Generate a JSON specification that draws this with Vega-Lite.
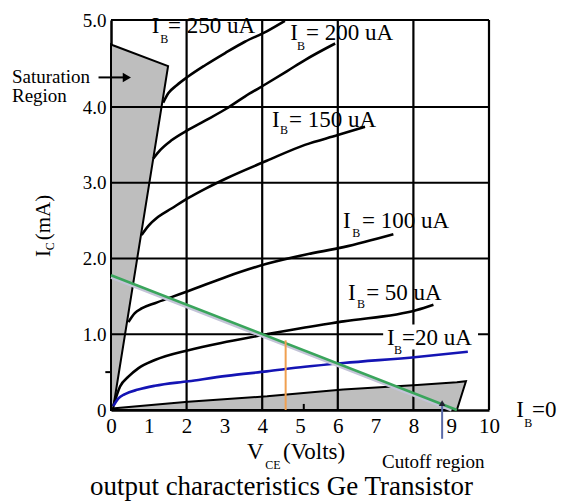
{
  "$schema": "https://vega.github.io/schema/vega-lite/v6.json",
  "width": 378,
  "height": 390,
  "autosize": {"type": "none"},
  "padding": {"left": 111, "top": 20, "right": 72, "bottom": 92},
  "background": "white",
  "config": {
    "view": {"stroke": null},
    "font": "Liberation Serif",
    "axis": {"labelFont": "Liberation Serif", "titleFont": "Liberation Serif"},
    "style": {"guide-label": {"font": "Liberation Serif"}, "guide-title": {"font": "Liberation Serif"}},
    "text": {"font": "Liberation Serif"}
  },
  "datasets": {
    "sat": [
      {"x": 0, "y": 4.72, "y2": 0},
      {"x": 0.05, "y": 4.71, "y2": 0},
      {"x": 1.51, "y": 4.47, "y2": 4.47}
    ],
    "cut": [
      {"x": 0.02, "y": 0.02, "y2": 0},
      {"x": 2.04, "y": 0.11, "y2": 0},
      {"x": 4.13, "y": 0.18, "y2": 0},
      {"x": 6.14, "y": 0.27, "y2": 0},
      {"x": 8.1, "y": 0.33, "y2": 0},
      {"x": 9.15, "y": 0.365, "y2": 0},
      {"x": 9.39, "y": 0.38, "y2": 0.38}
    ],
    "gridV": [
      {"x": 2, "y": 0, "y2": 5}, {"x": 4, "y": 0, "y2": 5}, {"x": 6, "y": 0, "y2": 5},
      {"x": 8, "y": 0, "y2": 5}, {"x": 10, "y": 0, "y2": 5}
    ],
    "gridH": [
      {"y": 1, "x": 0, "x2": 10}, {"y": 2, "x": 0, "x2": 10}, {"y": 3, "x": 0, "x2": 10},
      {"y": 4, "x": 0, "x2": 10}, {"y": 5, "x": 0, "x2": 10}
    ],
    "minorV": [{"x": 5.1, "y": 0, "y2": 0.08}],
    "minorH": [{"y": 0.5, "x": -0.15, "x2": 0}],
    "curves": [
      {"s": "250", "x": 1.38, "y": 4.05}, {"s": "250", "x": 1.52, "y": 4.16}, {"s": "250", "x": 1.74, "y": 4.25},
      {"s": "250", "x": 2.04, "y": 4.35}, {"s": "250", "x": 2.49, "y": 4.48}, {"s": "250", "x": 3.02, "y": 4.62},
      {"s": "250", "x": 3.54, "y": 4.75}, {"s": "250", "x": 4.12, "y": 4.87}, {"s": "250", "x": 4.6, "y": 4.99},
      {"s": "200", "x": 1.12, "y": 3.32}, {"s": "200", "x": 1.3, "y": 3.43}, {"s": "200", "x": 1.6, "y": 3.56},
      {"s": "200", "x": 2.05, "y": 3.7}, {"s": "200", "x": 2.49, "y": 3.82}, {"s": "200", "x": 3.06, "y": 3.98},
      {"s": "200", "x": 3.54, "y": 4.12}, {"s": "200", "x": 4.12, "y": 4.27}, {"s": "200", "x": 4.65, "y": 4.41},
      {"s": "200", "x": 5.13, "y": 4.54}, {"s": "200", "x": 5.93, "y": 4.73},
      {"s": "150", "x": 0.81, "y": 2.31}, {"s": "150", "x": 0.99, "y": 2.43}, {"s": "150", "x": 1.25, "y": 2.55},
      {"s": "150", "x": 1.6, "y": 2.66}, {"s": "150", "x": 2.05, "y": 2.8}, {"s": "150", "x": 2.49, "y": 2.92},
      {"s": "150", "x": 3.06, "y": 3.06}, {"s": "150", "x": 4.12, "y": 3.29}, {"s": "150", "x": 5.13, "y": 3.5},
      {"s": "150", "x": 6.0, "y": 3.63}, {"s": "150", "x": 6.72, "y": 3.74},
      {"s": "100", "x": 0.46, "y": 1.16}, {"s": "100", "x": 0.63, "y": 1.28}, {"s": "100", "x": 0.81, "y": 1.34},
      {"s": "100", "x": 1.16, "y": 1.41}, {"s": "100", "x": 1.6, "y": 1.49}, {"s": "100", "x": 2.05, "y": 1.57},
      {"s": "100", "x": 3.06, "y": 1.76}, {"s": "100", "x": 4.12, "y": 1.93}, {"s": "100", "x": 5.13, "y": 2.05},
      {"s": "100", "x": 6.15, "y": 2.15}, {"s": "100", "x": 7.47, "y": 2.32},
      {"s": "50", "x": 0.06, "y": 0.05}, {"s": "50", "x": 0.24, "y": 0.31}, {"s": "50", "x": 0.46, "y": 0.44},
      {"s": "50", "x": 0.72, "y": 0.55}, {"s": "50", "x": 1.16, "y": 0.66}, {"s": "50", "x": 2.05, "y": 0.79},
      {"s": "50", "x": 3.06, "y": 0.9}, {"s": "50", "x": 4.12, "y": 1.0}, {"s": "50", "x": 5.13, "y": 1.09},
      {"s": "50", "x": 6.15, "y": 1.17}, {"s": "50", "x": 8.09, "y": 1.32}, {"s": "50", "x": 8.53, "y": 1.39},
      {"s": "20", "x": 0.06, "y": 0.05}, {"s": "20", "x": 0.19, "y": 0.15}, {"s": "20", "x": 0.37, "y": 0.21},
      {"s": "20", "x": 0.72, "y": 0.27}, {"s": "20", "x": 1.16, "y": 0.32}, {"s": "20", "x": 2.05, "y": 0.38},
      {"s": "20", "x": 3.06, "y": 0.45}, {"s": "20", "x": 4.12, "y": 0.51}, {"s": "20", "x": 5.13, "y": 0.57},
      {"s": "20", "x": 6.15, "y": 0.62}, {"s": "20", "x": 8.09, "y": 0.7}, {"s": "20", "x": 9.44, "y": 0.77}
    ],
    "loadShadow": [{"x": 0, "y": 1.752}, {"x": 9.01, "y": 0}],
    "load": [{"x": 0, "y": 1.78}, {"x": 9.15, "y": 0}],
    "orange": [{"x": 4.62, "y": 0, "y2": 0.92}],
    "vArrow": [{"x": 8.76, "y": -0.38, "y2": 0.1}],
    "vHead": [{"x": 8.76, "y": 0.09}],
    "hArrow": [{"x": -0.33, "x2": 0.45, "y": 4.34}],
    "hHead": [{"x": 0.42, "y": 4.34}],
    "box": [{"x": 7.2, "x2": 9.71, "y": 0.8, "y2": 1.13}],
    "mainText": [
      {"x": 1.08, "y": 4.85, "t": "I"}, {"x": 1.51, "y": 4.85, "t": "= 250 uA"},
      {"x": 4.74, "y": 4.77, "t": "I"}, {"x": 5.16, "y": 4.77, "t": "= 200 uA"},
      {"x": 4.26, "y": 3.74, "t": "I"}, {"x": 4.71, "y": 3.74, "t": "= 150 uA"},
      {"x": 6.14, "y": 2.4, "t": "I"}, {"x": 6.64, "y": 2.4, "t": "= 100 uA"},
      {"x": 6.27, "y": 1.45, "t": "I"}, {"x": 6.75, "y": 1.45, "t": "= 50 uA"},
      {"x": 7.3, "y": 0.86, "t": "I"}, {"x": 7.7, "y": 0.86, "t": "=20 uA"},
      {"x": 10.72, "y": -0.09, "t": "I"}, {"x": 11.14, "y": -0.09, "t": "=0"},
      {"x": 3.6, "y": -0.65, "t": "V"}, {"x": 4.55, "y": -0.65, "t": "(Volts)"}
    ],
    "satText": [
      {"x": -2.62, "y": 4.28, "t": "Saturation"}, {"x": -2.62, "y": 4.06, "t": "Region"}
    ],
    "subText": [
      {"x": 1.3, "y": 4.74, "t": "B"}, {"x": 4.92, "y": 4.66, "t": "B"}, {"x": 4.47, "y": 3.64, "t": "B"},
      {"x": 6.38, "y": 2.28, "t": "B"}, {"x": 6.51, "y": 1.35, "t": "B"}, {"x": 7.49, "y": 0.74, "t": "B"},
      {"x": 10.93, "y": -0.22, "t": "B"}, {"x": 4.08, "y": -0.78, "t": "CE"}
    ],
    "yTitleMain": [{"x": -1.62, "y": 2.02, "t": "I"}, {"x": -1.62, "y": 2.24, "t": "(mA)"}],
    "yTitleSub": [{"x": -1.5, "y": 2.11, "t": "C"}],
    "cutoffText": [{"x": 7.17, "y": -0.76, "t": "Cutoff region"}],
    "titleText": [{"x": 4.51, "y": -1.12, "t": "output characteristics Ge Transistor"}]
  },
  "encoding": {
    "x": {
      "field": "x", "type": "quantitative",
      "scale": {"domain": [0, 10], "nice": false, "zero": false},
      "axis": {
        "title": null, "values": [0, 1, 2, 3, 4, 5, 6, 7, 8, 9, 10], "grid": false, "ticks": false,
        "domainColor": "black", "domainWidth": 2.5, "labelFont": "Liberation Serif", "labelFontSize": 21,
        "labelColor": "black", "labelPadding": 5, "labelFlush": false
      }
    },
    "y": {
      "field": "y", "type": "quantitative",
      "scale": {"domain": [0, 4, 5], "range": [390, 87, 0], "nice": false, "zero": false},
      "axis": {
        "title": null, "values": [0, 1, 2, 3, 4, 5], "grid": false, "ticks": false,
        "domainColor": "black", "domainWidth": 2.5, "labelFont": "Liberation Serif", "labelFontSize": 19,
        "labelColor": "black", "labelPadding": 5,
        "labelExpr": "datum.value == 0 ? '0' : format(datum.value, '.1f')"
      }
    }
  },
  "layer": [
    {"data": {"name": "sat"}, "mark": {"type": "area", "fill": "#bebebe", "stroke": "black", "strokeWidth": 2}, "encoding": {"y2": {"field": "y2"}}},
    {"data": {"name": "cut"}, "mark": {"type": "area", "fill": "#bebebe", "stroke": "black", "strokeWidth": 2}, "encoding": {"y2": {"field": "y2"}}},
    {"data": {"name": "gridV"}, "mark": {"type": "rule", "color": "black", "strokeWidth": 2.2}, "encoding": {"y2": {"field": "y2"}}},
    {"data": {"name": "gridH"}, "mark": {"type": "rule", "color": "black", "strokeWidth": 2.2}, "encoding": {"x2": {"field": "x2"}}},
    {"data": {"name": "minorV"}, "mark": {"type": "rule", "color": "black", "strokeWidth": 2}, "encoding": {"y2": {"field": "y2"}}},
    {"data": {"name": "minorH"}, "mark": {"type": "rule", "color": "black", "strokeWidth": 2}, "encoding": {"x2": {"field": "x2"}}},
    {
      "data": {"name": "curves"},
      "mark": {"type": "line", "strokeWidth": 2.6, "interpolate": "monotone"},
      "encoding": {
        "color": {"field": "s", "type": "nominal", "legend": null,
          "scale": {"domain": ["250", "200", "150", "100", "50", "20"], "range": ["black", "black", "black", "black", "black", "#1414b4"]}}
      }
    },
    {"data": {"name": "loadShadow"}, "mark": {"type": "line", "color": "#c4c4d8", "strokeWidth": 3}, "encoding": {}},
    {"data": {"name": "load"}, "mark": {"type": "line", "color": "#3aa55c", "strokeWidth": 2.6}, "encoding": {}},
    {"data": {"name": "orange"}, "mark": {"type": "rule", "color": "#f0a050", "strokeWidth": 2}, "encoding": {"y2": {"field": "y2"}}},
    {"data": {"name": "vArrow"}, "mark": {"type": "rule", "color": "#5a6aa8", "strokeWidth": 2}, "encoding": {"y2": {"field": "y2"}}},
    {"data": {"name": "vHead"}, "mark": {"type": "point", "shape": "triangle-up", "filled": true, "color": "#222233", "size": 45, "opacity": 1}, "encoding": {}},
    {"data": {"name": "hArrow"}, "mark": {"type": "rule", "color": "black", "strokeWidth": 2}, "encoding": {"x2": {"field": "x2"}}},
    {"data": {"name": "hHead"}, "mark": {"type": "point", "shape": "triangle-right", "filled": true, "color": "black", "size": 90, "opacity": 1}, "encoding": {}},
    {"data": {"name": "box"}, "mark": {"type": "rect", "fill": "white"}, "encoding": {"x2": {"field": "x2"}, "y2": {"field": "y2"}}},
    {"data": {"name": "mainText"}, "mark": {"type": "text", "align": "left", "baseline": "alphabetic", "fontSize": 23, "color": "black", "font": "Liberation Serif"}, "encoding": {"text": {"field": "t"}}},
    {"data": {"name": "satText"}, "mark": {"type": "text", "align": "left", "baseline": "alphabetic", "fontSize": 19, "color": "black", "font": "Liberation Serif"}, "encoding": {"text": {"field": "t"}}},
    {"data": {"name": "subText"}, "mark": {"type": "text", "align": "left", "baseline": "alphabetic", "fontSize": 12, "color": "black", "font": "Liberation Serif"}, "encoding": {"text": {"field": "t"}}},
    {"data": {"name": "yTitleMain"}, "mark": {"type": "text", "align": "left", "baseline": "alphabetic", "angle": 270, "fontSize": 21, "color": "black", "font": "Liberation Serif"}, "encoding": {"text": {"field": "t"}}},
    {"data": {"name": "yTitleSub"}, "mark": {"type": "text", "align": "left", "baseline": "alphabetic", "angle": 270, "fontSize": 12, "color": "black", "font": "Liberation Serif"}, "encoding": {"text": {"field": "t"}}},
    {"data": {"name": "cutoffText"}, "mark": {"type": "text", "align": "left", "baseline": "alphabetic", "fontSize": 19, "color": "black", "font": "Liberation Serif"}, "encoding": {"text": {"field": "t"}}},
    {"data": {"name": "titleText"}, "mark": {"type": "text", "align": "center", "baseline": "alphabetic", "fontSize": 27, "color": "black", "font": "Liberation Serif"}, "encoding": {"text": {"field": "t"}}}
  ]
}
